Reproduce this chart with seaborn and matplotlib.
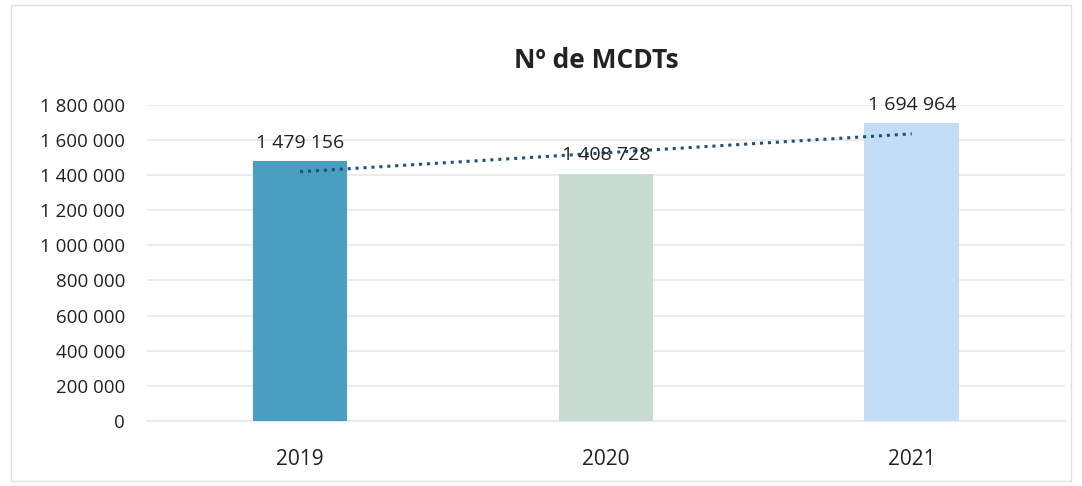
import numpy as np
import pandas as pd
import seaborn as sns
import matplotlib.pyplot as plt
from matplotlib.ticker import FuncFormatter

# dados do gráfico
anos = ['2019', '2020', '2021']
mcdts = [1479156, 1408728, 1694964]
cores = ['#4a9ec2', '#c8dcd4', '#c3ddf6']

df = pd.DataFrame({'Ano': anos, 'MCDTs': mcdts})

sns.set_theme(style='white')
plt.rcParams['font.family'] = ['Open Sans', 'DejaVu Sans']

fig = plt.figure(figsize=(10.82, 4.86), dpi=100)
ax = fig.add_axes([0.136, 0.134, 0.848, 0.650])

sns.barplot(data=df, x='Ano', y='MCDTs', hue='Ano', palette=cores, saturation=1,
            width=0.31, linewidth=0, legend=False, ax=ax, zorder=3)

# linha de tendência linear
xs = np.arange(len(anos))
a, b = np.polyfit(xs, mcdts, 1)
ax.plot(xs, a * xs + b, linestyle=(0, (1, 1.6)), color='#1f4f7a', linewidth=2.2, zorder=4)

# rótulos dos valores
fmt = lambda v: f'{int(v):,}'.replace(',', ' ')
for i, v in enumerate(mcdts):
    ax.annotate(fmt(v), (i, v), xytext=(0, 7), textcoords='offset points',
                ha='center', va='bottom', fontsize=14, color='#222222', zorder=5)

ax.set_ylim(0, 1800000)
ax.set_yticks(range(0, 1800001, 200000))
ax.yaxis.set_major_formatter(FuncFormatter(lambda v, p: fmt(v)))
ax.set_xlim(-0.5, 2.5)
ax.grid(axis='y', color='#e8e8e8', linewidth=1.2, zorder=0)
ax.set_axisbelow(True)
for s in ['top', 'right', 'left']:
    ax.spines[s].set_visible(False)
ax.spines['bottom'].set_color('#e8e8e8')
ax.tick_params(axis='y', labelsize=13.5, colors='#222222', length=0, pad=16)
ax.tick_params(axis='x', labelsize=15, colors='#222222', length=0, pad=20)
ax.set_xlabel('')
ax.set_ylabel('')

fig.text(0.551, 0.876, 'Nº de MCDTs', ha='center', va='center',
         fontsize=19, fontweight='bold', color='#222222')

# moldura
fig.patches.append(plt.Rectangle((0.01, 0.01), 0.98, 0.98, transform=fig.transFigure,
                                 fill=False, edgecolor='#e0e0e0', linewidth=1))

fig.savefig('out.png', dpi=100)
